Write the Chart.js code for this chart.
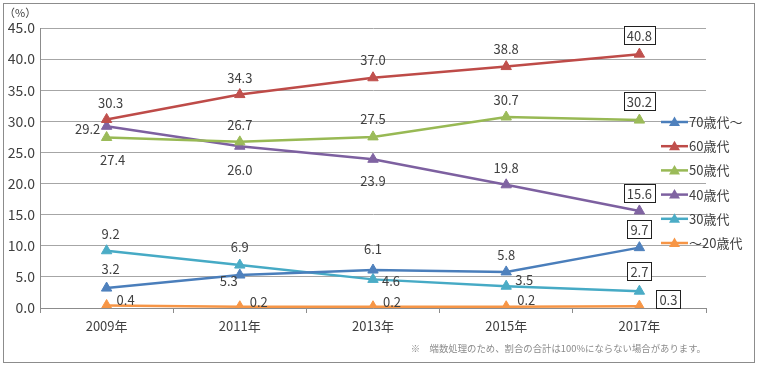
<!DOCTYPE html>
<html>
<head>
<meta charset="utf-8">
<script src="https://cdn.jsdelivr.net/npm/chart.js@4/dist/chart.umd.min.js"></script>
<style>
    body { margin: 0; background: #fff; }
</style>
</head>
<body>
<canvas id="age-chart" width="758" height="366"></canvas>
<script>
// years on the x axis
const years = ['2009年', '2011年', '2013年', '2015年', '2017年'];

// share by age group (%)
const age70 = [3.2, 5.3, 6.1, 5.8, 9.7];
const age60 = [30.3, 34.3, 37.0, 38.8, 40.8];
const age50 = [27.4, 26.7, 27.5, 30.7, 30.2];
const age40 = [29.2, 26.0, 23.9, 19.8, 15.6];
const age30 = [9.2, 6.9, 4.6, 3.5, 2.7];
const age20 = [0.4, 0.2, 0.2, 0.2, 0.3];

const seriesNames = ['70歳代～', '60歳代', '50歳代', '40歳代', '30歳代', '～20歳代'];
const yTicks = [0, 5, 10, 15, 20, 25, 30, 35, 40, 45];

const FONT = '"Noto Sans CJK JP", "Noto Sans", sans-serif';
const TEXT = '#404040';

// where each data label sits relative to its point [dx, dy]
const labelSpots = [
    [[4, -20], [-11, 5], [0, -22], [0, -18], [0, -19]],
    [[4, -17], [0, -18], [0, -19], [0, -19], [0, -19]],
    [[6, 22], [0, -18], [0, -19], [0, -18], [0, -19]],
    [[-19, 2], [0, 23], [0, 21], [0, -18], [0, -18]],
    [[4, -18], [0, -19], [18, 1], [18, -7], [0, -20]],
    [[19, -6], [19, -6], [19, -6], [20, -8], [29, -7]]
];

const styles = [
    { line: '#4A7EBB', fill: '#4F81BD' },
    { line: '#BE4B48', fill: '#C0504D' },
    { line: '#98B954', fill: '#9BBB59' },
    { line: '#7D60A0', fill: '#8064A2' },
    { line: '#46AAC5', fill: '#4BACC6' },
    { line: '#F69546', fill: '#F79646' }
];

const allSeries = [age70, age60, age50, age40, age30, age20];

const datasets = allSeries.map((values, i) => ({
    label: seriesNames[i],
    data: values,
    borderColor: styles[i].line,
    backgroundColor: styles[i].fill,
    borderWidth: 2.5,
    pointStyle: 'triangle',
    pointRadius: 6,
    pointBorderWidth: 1,
    pointBorderColor: styles[i].fill,
    pointBackgroundColor: styles[i].fill,
    tension: 0
}));

const framePlugin = {
    id: 'frame',
    beforeDraw(chart) {
        let ctx = chart.ctx;
        ctx.save();
        ctx.fillStyle = '#fff';
        ctx.fillRect(0, 0, chart.width, chart.height);
        ctx.strokeStyle = '#8c8c8c';
        ctx.lineWidth = 1;
        ctx.strokeRect(3.5, 3.5, chart.width - 7, chart.height - 7);
        ctx.restore();
    },
    afterDraw(chart) {
        let ctx = chart.ctx;
        let area = chart.chartArea;
        ctx.save();

        // unit
        ctx.font = '11px ' + FONT;
        ctx.fillStyle = TEXT;
        ctx.textAlign = 'left';
        ctx.textBaseline = 'middle';
        ctx.fillText('（%）', 4, 13);

        // legend
        ctx.font = '13px ' + FONT;
        chart.data.datasets.forEach((ds, i) => {
            let y = 122 + i * 24.2;
            ctx.strokeStyle = ds.borderColor;
            ctx.lineWidth = 2.5;
            ctx.beginPath();
            ctx.moveTo(661, y);
            ctx.lineTo(688, y);
            ctx.stroke();
            ctx.fillStyle = ds.backgroundColor;
            ctx.beginPath();
            ctx.moveTo(674.5, y - 5.5);
            ctx.lineTo(680, y + 4);
            ctx.lineTo(669, y + 4);
            ctx.closePath();
            ctx.fill();
            ctx.fillStyle = TEXT;
            ctx.fillText(ds.label, 689, y);
        });

        // footnote
        ctx.font = '9.4px ' + FONT;
        ctx.fillStyle = '#8a8a8a';
        ctx.textAlign = 'right';
        ctx.fillText('※　端数処理のため、割合の合計は100%にならない場合があります。', area.right, 348);
        ctx.restore();
    }
};

const labelPlugin = {
    id: 'pointLabels',
    afterDatasetsDraw(chart) {
        let ctx = chart.ctx;
        ctx.save();
        ctx.font = '13px ' + FONT;
        ctx.textAlign = 'center';
        ctx.textBaseline = 'middle';
        chart.data.datasets.forEach((ds, i) => {
            let meta = chart.getDatasetMeta(i);
            meta.data.forEach((pt, j) => {
                let text = ds.data[j].toFixed(1);
                let x = pt.x + labelSpots[i][j][0];
                let y = pt.y + labelSpots[i][j][1];
                if (j === ds.data.length - 1) {
                    let w = ctx.measureText(text).width + 6;
                    ctx.fillStyle = '#fff';
                    ctx.fillRect(x - w / 2, y - 9, w, 18);
                    ctx.strokeStyle = '#202020';
                    ctx.lineWidth = 1;
                    ctx.strokeRect(Math.round(x - w / 2) + 0.5, Math.round(y - 9) + 0.5, Math.round(w), 18);
                }
                ctx.fillStyle = TEXT;
                ctx.fillText(text, x, y + 1);
            });
        });
        ctx.restore();
    }
};

let ctx = document.getElementById('age-chart').getContext('2d');

let ageChart = new Chart(ctx, {
    type: 'line',
    data: {
        labels: years,
        datasets: datasets
    },
    options: {
        responsive: false,
        animation: false,
        devicePixelRatio: 1,
        layout: {
            padding: { top: 28, right: 52, left: 0, bottom: 0 }
        },
        plugins: {
            legend: { display: false },
            tooltip: { enabled: false }
        },
        scales: {
            x: {
                offset: true,
                grid: {
                    offset: true,
                    drawOnChartArea: false,
                    drawTicks: true,
                    tickLength: 5,
                    color: '#8c8c8c'
                },
                border: { color: '#8c8c8c' },
                ticks: {
                    color: TEXT,
                    font: { family: FONT, size: 13 },
                    padding: 5,
                    maxRotation: 0
                },
                afterFit: function (scale) {
                    scale.height = 58;
                }
            },
            y: {
                min: yTicks[0],
                max: yTicks[yTicks.length - 1],
                afterBuildTicks: function (scale) {
                    scale.ticks = yTicks.map(v => ({ value: v }));
                },
                grid: {
                    color: '#a6a6a6',
                    drawTicks: false
                },
                border: { color: '#8c8c8c' },
                ticks: {
                    color: TEXT,
                    font: { family: FONT, size: 14 },
                    padding: 5,
                    callback: function (value) {
                        return Number(value).toFixed(1);
                    }
                },
                afterFit: function (scale) {
                    scale.width = 40;
                }
            }
        }
    },
    plugins: [framePlugin, labelPlugin]
});
</script>
</body>
</html>
